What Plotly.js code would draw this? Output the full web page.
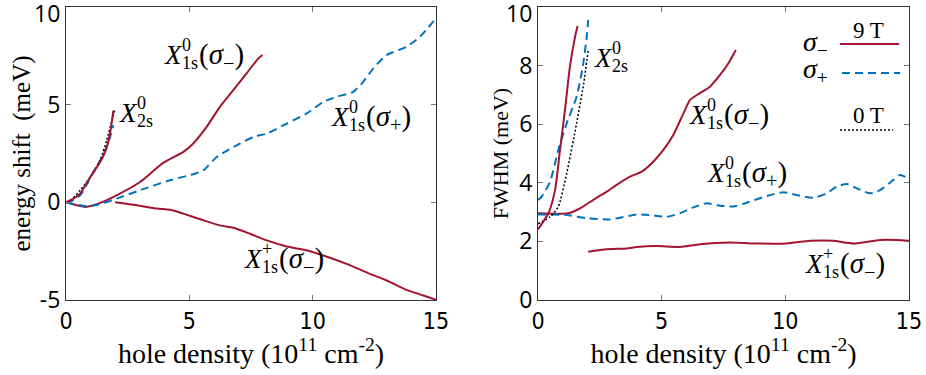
<!DOCTYPE html>
<html>
<head>
<meta charset="utf-8">
<script src="https://cdn.plot.ly/plotly-3.0.1.min.js"></script>
<style>
  html, body { margin: 0; padding: 0; background: #fff; }
  #chart { width: 926px; height: 375px; }
</style>
</head>
<body>
<div id="chart"></div>
<script>
// Left panel: energy shift (meV) vs hole density
const shift1sMinusX = [0, 0.77, 1.24, 2.05, 3.0, 3.95, 4.76, 5.16, 5.7, 6.24, 6.78, 7.32, 7.8, 7.97];
const shift1sMinusY = [0, -0.24, -0.1, 0.36, 1.04, 2.03, 2.58, 3.01, 3.86, 4.89, 5.74, 6.6, 7.37, 7.54];

const shift1sPlusX = [0, 0.84, 1.3, 2.05, 3.0, 4.22, 5.16, 5.57, 6.11, 7.05, 7.6, 8.14, 8.95, 9.76, 10.43, 10.97, 11.65, 12.05, 12.46, 13.0, 13.81, 14.35, 15.0];
const shift1sPlusY = [0, -0.2, -0.12, 0.19, 0.62, 1.13, 1.44, 1.64, 2.32, 3.01, 3.35, 3.52, 4.03, 4.55, 5.14, 5.4, 5.66, 6.17, 6.86, 7.54, 7.97, 8.48, 9.42];

const shiftTrionX = [1.99, 2.87, 3.68, 4.22, 4.76, 5.57, 6.24, 6.78, 7.46, 8.14, 8.95, 9.89, 10.43, 11.38, 12.32, 13.0, 13.81, 14.49, 15.0];
const shiftTrionY = [0, -0.15, -0.32, -0.38, -0.58, -0.92, -1.18, -1.3, -1.61, -1.95, -2.26, -2.5, -2.72, -3.15, -3.66, -4.0, -4.48, -4.77, -4.99];

const shift2sMinusX = [0, 0.3, 0.57, 0.9, 1.15, 1.4, 1.62, 1.78, 1.92];
const shift2sMinusY = [0, 0.19, 0.44, 1.13, 1.6, 2.1, 2.7, 3.5, 4.7];
const shift2sPlusX = [0, 0.3, 0.6, 0.9, 1.2, 1.5, 1.75, 1.92];
const shift2sPlusY = [0, 0.12, 0.4, 1.05, 1.75, 2.4, 3.2, 3.95];
const shift2sZeroX = [0.05, 0.16, 0.57, 0.9, 1.38, 1.65, 1.99];
const shift2sZeroY = [0, 0.05, 0.62, 1.13, 2.15, 3.18, 4.8];

// Right panel: FWHM (meV) vs hole density
const fwhm1sMinusX = [0, 1.23, 1.7, 2.24, 2.78, 3.18, 3.72, 4.19, 4.66, 5.07, 5.47, 5.88, 6.15, 6.55, 6.95, 7.36, 7.7, 8.0];
const fwhm1sMinusY = [2.96, 2.96, 3.13, 3.42, 3.7, 3.93, 4.21, 4.38, 4.72, 5.12, 5.63, 6.37, 6.83, 7.06, 7.28, 7.68, 8.08, 8.53];

const fwhmTrionX = [2.03, 2.78, 3.59, 4.0, 4.8, 5.74, 6.55, 7.76, 8.71, 10.05, 11.0, 11.94, 12.75, 13.83, 14.5, 15.0];
const fwhmTrionY = [1.65, 1.73, 1.76, 1.81, 1.84, 1.81, 1.9, 1.96, 1.93, 1.93, 2.02, 2.02, 1.93, 2.05, 2.05, 2.02];

const fwhm1sPlusX = [0, 1.16, 1.97, 2.91, 4.0, 4.53, 5.2, 5.74, 6.28, 6.82, 7.36, 7.9, 8.44, 9.25, 9.92, 10.46, 11.13, 11.67, 12.08, 12.48, 12.89, 13.43, 13.83, 14.37, 14.64, 15.0];
const fwhm1sPlusY = [2.92, 2.9, 2.79, 2.75, 2.92, 2.9, 2.84, 2.96, 3.16, 3.3, 3.22, 3.19, 3.32, 3.55, 3.68, 3.58, 3.49, 3.64, 3.87, 3.96, 3.81, 3.64, 3.75, 4.1, 4.27, 4.13];

const fwhm2sMinusX = [0, 0.42, 0.69, 0.89, 1.09, 1.29, 1.5, 1.6];
const fwhm2sMinusY = [2.41, 2.96, 3.75, 5.12, 6.48, 7.96, 8.99, 9.35];
const fwhm2sPlusX = [0, 0.15, 0.49, 0.82, 1.16, 1.56, 1.81, 1.97, 2.03];
const fwhm2sPlusY = [3.41, 3.53, 4.04, 5.12, 6.03, 6.94, 7.96, 8.99, 9.56];
const fwhm2sZeroX = [0, 0.49, 0.82, 1.16, 1.56, 1.85, 2.03];
const fwhm2sZeroY = [2.6, 2.84, 3.18, 4.32, 6.03, 7.4, 8.53];

const xTicks = [0, 5, 10, 15];
const leftYTicks = [-5, 0, 5, 10];
const leftYLabels = ['-5', '0', '5', ''];   // top "10" drawn just under the corner
const rightYTicks = [0, 2, 4, 6, 8, 10];
const rightYLabels = ['0', '2', '4', '6', '8', ''];
const topLabel = '10';

const RED = '#a2142f';
const BLUE = '#0072bd';
const serif = 'Liberation Serif, Times New Roman, serif';
const sans = 'Open Sans, Liberation Sans, sans-serif';

function line(x, y, xa, ya, kind) {
    const styles = {
        red: {color: RED, width: 2},
        blue: {color: BLUE, width: 2, dash: '8px,5px'},
        black: {color: '#000', width: 1.5, dash: '2px,2px'}
    };
    const ln = Object.assign({shape: 'spline', smoothing: 0.6}, styles[kind]);
    return {x: x, y: y, xaxis: xa, yaxis: ya, type: 'scatter', mode: 'lines',
            line: ln, showlegend: false, hoverinfo: 'skip'};
}

const traces = [
    line(shift1sMinusX, shift1sMinusY, 'x', 'y', 'red'),
    line(shift1sPlusX, shift1sPlusY, 'x', 'y', 'blue'),
    line(shiftTrionX, shiftTrionY, 'x', 'y', 'red'),
    line(shift2sPlusX, shift2sPlusY, 'x', 'y', 'blue'),
    line(shift2sZeroX, shift2sZeroY, 'x', 'y', 'black'),
    line(shift2sMinusX, shift2sMinusY, 'x', 'y', 'red'),
    line(fwhm1sMinusX, fwhm1sMinusY, 'x2', 'y2', 'red'),
    line(fwhm1sPlusX, fwhm1sPlusY, 'x2', 'y2', 'blue'),
    line(fwhmTrionX, fwhmTrionY, 'x2', 'y2', 'red'),
    line(fwhm2sPlusX, fwhm2sPlusY, 'x2', 'y2', 'blue'),
    line(fwhm2sZeroX, fwhm2sZeroY, 'x2', 'y2', 'black'),
    line(fwhm2sMinusX, fwhm2sMinusY, 'x2', 'y2', 'red')
];

// stacked super/subscript label like X^0_{1s}(sigma)
function label(xa, ya, x, y, sup, sub, tail) {
    const base = {xref: xa, yref: ya, x: x, y: y, showarrow: false,
                  xanchor: 'left', yanchor: 'middle'};
    const big = {family: serif, size: 27, color: '#000'};
    const small = {family: serif, size: 18, color: '#000'};
    const out = [
        Object.assign({}, base, {text: '<i>X</i>', font: big}),
        Object.assign({}, base, {text: sup, font: small, xshift: 18, yshift: 10}),
        Object.assign({}, base, {text: sub, font: small, xshift: 18, yshift: -8})
    ];
    if (tail) out.push(Object.assign({}, base, {text: tail, font: {family: serif, size: 29, color: '#000'}, xshift: 35, yshift: -1}));
    return out;
}

const sigMinus = '(<i>σ</i><sub>−</sub>)';
const sigPlus = '(<i>σ</i><sub>+</sub>)';

let annotations = [].concat(
    label('x', 'y', 3.89, 7.54, '0', '1s', sigMinus),
    label('x', 'y', 2.07, 4.56, '0', '2s', null),
    label('x', 'y', 10.66, 4.36, '0', '1s', sigPlus),
    label('x', 'y', 7.13, -2.9, '+', '1s', sigMinus),
    label('x2', 'y2', 2.18, 8.26, '0', '2s', null),
    label('x2', 'y2', 6.03, 6.31, '0', '1s', sigMinus),
    label('x2', 'y2', 6.75, 4.33, '0', '1s', sigPlus),
    label('x2', 'y2', 10.72, 1.23, '+', '1s', sigMinus)
);

// legend texts
const legFont = {family: serif, size: 28, color: '#000'};
annotations = annotations.concat([
    {xref: 'x2', yref: 'y2', x: 10.62, y: 8.77, xanchor: 'left', yanchor: 'middle', showarrow: false,
     text: '<i>σ</i><sub>−</sub>', font: legFont},
    {xref: 'x2', yref: 'y2', x: 10.62, y: 7.85, xanchor: 'left', yanchor: 'middle', showarrow: false,
     text: '<i>σ</i><sub>+</sub>', font: legFont},
    {xref: 'x2', yref: 'y2', x: 13.38, y: 9.2, xanchor: 'center', yanchor: 'middle', showarrow: false,
     text: '9 T', font: {family: serif, size: 23, color: '#000'}},
    {xref: 'x2', yref: 'y2', x: 13.38, y: 6.3, xanchor: 'center', yanchor: 'middle', showarrow: false,
     text: '0 T', font: {family: serif, size: 23, color: '#000'}}
]);

// top "10" tick labels, sitting just inside the figure edge
[['x', 'y'], ['x2', 'y2']].forEach(([xa, ya]) => {
    annotations.push({xref: xa, yref: ya, x: 0, y: 10, xanchor: 'right', yanchor: 'middle',
                      xshift: -4, yshift: -6, showarrow: false, text: topLabel,
                      font: {family: sans, size: 23, color: '#000'}});
});

const shapes = [
    {type: 'line', xref: 'x2', yref: 'y2', x0: 12.21, x1: 14.6, y0: 8.74, y1: 8.74,
     line: {color: RED, width: 2}},
    {type: 'line', xref: 'x2', yref: 'y2', x0: 12.29, x1: 14.64, y0: 7.75, y1: 7.75,
     line: {color: BLUE, width: 2, dash: '8px,5px'}},
    {type: 'line', xref: 'x2', yref: 'y2', x0: 12.21, x1: 14.35, y0: 5.8, y1: 5.8,
     line: {color: '#000', width: 1.5, dash: '2px,2px'}}
];

const xTitle = {text: 'hole density (10<sup>11</sup> cm<sup>-2</sup>)',
                font: {family: serif, size: 28, color: '#000'}, standoff: 10};

function xAxis(domain, anchor) {
    return {domain: domain, anchor: anchor, range: [0, 15], tickvals: xTicks,
            showgrid: false, zeroline: false, showline: true, mirror: 'ticks',
            linecolor: '#333', linewidth: 1, ticks: 'inside', ticklen: 5, tickcolor: '#777',
            ticklabelstandoff: 0, ticklabeloverflow: 'allow',
            tickfont: {family: 'Liberation Sans Narrow, DejaVu Sans Condensed, Arial Narrow, sans-serif', size: 23, color: '#000'},
            title: xTitle};
}

function yAxis(range, ticks, labels, anchor, title, size, standoff) {
    return {domain: [0, 1], anchor: anchor, range: range, tickvals: ticks, ticktext: labels,
            showgrid: false, zeroline: false, showline: true, mirror: 'ticks',
            linecolor: '#333', linewidth: 1, ticks: 'inside', ticklen: 5, tickcolor: '#777',
            ticklabeloverflow: 'allow',
            tickfont: {family: sans, size: 23, color: '#000'},
            title: {text: title, font: {family: serif, size: size, color: '#000'}, standoff: standoff}};
}

const layout = {
    width: 926, height: 375,
    margin: {l: 66, r: 17, t: 7, b: 75},
    paper_bgcolor: '#fff', plot_bgcolor: '#fff',
    xaxis: xAxis([0, 0.4389], 'y'),
    yaxis: yAxis([-5, 10], leftYTicks, leftYLabels, 'x', 'energy shift  (meV)', 25, 2),
    xaxis2: xAxis([0.5599, 1], 'y2'),
    yaxis2: yAxis([0, 10], rightYTicks, rightYLabels, 'x2', 'FWHM (meV)', 22, 4),
    annotations: annotations,
    shapes: shapes,
    showlegend: false
};

Plotly.newPlot('chart', traces, layout, {displayModeBar: false, staticPlot: true});
</script>
</body>
</html>
